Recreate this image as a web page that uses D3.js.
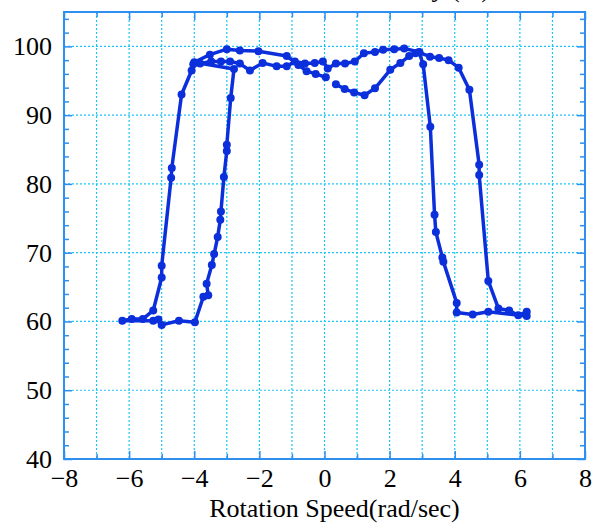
<!DOCTYPE html>
<html>
<head>
<meta charset="utf-8">
<script src="https://cdn.jsdelivr.net/npm/d3@7"></script>
<style>
  body { margin: 0; background: #fff; }
  text { font-family: "Liberation Serif", "DejaVu Serif", serif; }
</style>
</head>
<body>
<div id="chart"></div>
<script>
// Measured points in the order they were recorded (speed in rad/sec, value in %)
const speed = [0.35, 0.62, 0.91, 1.23, 1.55, 2.02, 2.33, 2.6, 2.79, 2.92, 3.24, 3.52, 3.81, 4.12, 4.45, 4.75, 4.75, 5.03, 5.34, 5.67, 5.95, 6.21, 6.21,
  5.03, 4.55, 4.06, 4.06, 3.65, 3.62, 3.42, 3.38, 3.25, 3.03, 2.9, 2.45, 2.14, 1.8, 1.55, 1.21, 0.93, 0.63, 0.35, 0.1,
  -0.05, -0.3, -0.6, -0.91, -1.16, -1.47, -1.9, -2.29, -2.6, -2.9, -3.18, -3.48, -3.82, -4.03, -4.08, -4.39, -4.69, -4.71, -5.0, -5.0, -5.26, -5.58, -5.92, -6.21,
  -5.26, -5.1, -5.0, -4.47, -3.98, -3.72, -3.57, -3.62, -3.46, -3.39, -3.28, -3.2, -3.18, -3.09, -3.0, -3.0, -2.88, -2.78,
  -4.0, -3.52, -3.0, -2.6, -2.03, -1.16, -0.8, -0.55, -0.27, 0.04]
const value = [94.5, 93.8, 93.3, 92.9, 93.9, 96.6, 97.6, 98.6, 99.0, 99.1, 98.5, 98.3, 98.0, 96.9, 93.7, 82.8, 81.3, 65.9, 61.9, 61.6, 60.9, 61.4, 60.8,
  61.4, 61.0, 61.3, 62.7, 68.7, 69.3, 73.0, 75.5, 88.3, 97.4, 99.2, 99.7, 99.6, 99.5, 99.2, 99.0, 97.8, 97.5, 97.5, 96.8,
  97.8, 97.6, 97.5, 97.8, 97.1, 97.1, 97.6, 96.5, 97.5, 97.8, 97.8, 97.8, 97.5, 97.4, 96.5, 93.0, 82.3, 80.9, 68.1, 66.4, 61.6, 60.35, 60.35, 60.1,
  60.1, 60.3, 59.5, 60.1, 59.9, 63.6, 63.8, 65.5, 68.2, 69.8, 72.3, 74.8, 76.0, 81.0, 84.8, 85.7, 92.5, 96.7,
  97.7, 98.8, 99.6, 99.4, 99.3, 98.6, 97.3, 96.4, 96.0, 95.5]

const xTicks = [-8, -6, -4, -2, 0, 2, 4, 6, 8]
const yTicks = [40, 50, 60, 70, 80, 90, 100]
const xLabel = "Rotation Speed(rad/sec)"
const yLabel = "Efficiency (%)"

let margin = {top: 12, right: 8, bottom: 67, left: 64}
let width = 593 - margin.left - margin.right
let height = 526 - margin.top - margin.bottom

let points = speed.map((s, i) => ({speed: s, value: value[i]}))

let xScale = d3.scaleLinear().domain([-8, 8]).range([0, width])
let yScale = d3.scaleLinear().domain([40, 105]).range([height, 0])

let svg = d3.select("#chart").append("svg")
  .attr("width", 593)
  .attr("height", 526)
  .append("g")
  .attr("transform", "translate(" + margin.left + "," + margin.top + ")")

const frameColor = "#2f8ff0"
const gridColor = "#19c6f5"

//dotted grid, every unit on x and every 10 on y
svg.append("g").selectAll("line").data(d3.range(-7, 8)).enter().append("line")
  .attr("x1", d => xScale(d)).attr("x2", d => xScale(d))
  .attr("y1", 0).attr("y2", height)
  .attr("stroke", gridColor).attr("stroke-width", 1.2).attr("stroke-dasharray", "2,2")
svg.append("g").selectAll("line").data(d3.range(50, 101, 10)).enter().append("line")
  .attr("y1", d => yScale(d)).attr("y2", d => yScale(d))
  .attr("x1", 0).attr("x2", width)
  .attr("stroke", gridColor).attr("stroke-width", 1.2).attr("stroke-dasharray", "2,2")

//axes with inward ticks
function styleAxis(g) {
  g.attr("font-family", null).attr("font-size", null)
  g.select(".domain").remove()
  g.selectAll(".tick line").attr("stroke", frameColor).attr("stroke-width", 1.5)
  g.selectAll(".tick text").attr("fill", "#000")
    .style("font-family", '"Liberation Serif", serif').style("font-size", "26px")
}
let minorX = d3.range(-7, 8, 2)
let minorY = d3.range(42, 105, 2).filter(d => d % 10 !== 0)

svg.append("g").attr("transform", "translate(0," + height + ")")
  .call(d3.axisBottom(xScale).tickValues(xTicks).tickSize(-8).tickPadding(10).tickFormat(d3.format("d")))
  .call(styleAxis)
svg.append("g").attr("transform", "translate(0," + height + ")")
  .call(d3.axisBottom(xScale).tickValues(minorX).tickSize(-5).tickFormat(""))
  .call(styleAxis)
svg.append("g")
  .call(d3.axisTop(xScale).tickValues(xTicks).tickSize(-8).tickFormat(""))
  .call(styleAxis)
svg.append("g")
  .call(d3.axisTop(xScale).tickValues(minorX).tickSize(-5).tickFormat(""))
  .call(styleAxis)
svg.append("g")
  .call(d3.axisLeft(yScale).tickValues(yTicks).tickSize(-8).tickPadding(12).tickFormat(d3.format("d")))
  .call(styleAxis)
svg.append("g")
  .call(d3.axisLeft(yScale).tickValues(minorY).tickSize(-5).tickFormat(""))
  .call(styleAxis)
svg.append("g").attr("transform", "translate(" + width + ",0)")
  .call(d3.axisRight(yScale).tickValues(yTicks).tickSize(-8).tickFormat(""))
  .call(styleAxis)
svg.append("g").attr("transform", "translate(" + width + ",0)")
  .call(d3.axisRight(yScale).tickValues(minorY).tickSize(-5).tickFormat(""))
  .call(styleAxis)

//plot frame
svg.append("rect").attr("width", width).attr("height", height)
  .attr("fill", "none").attr("stroke", frameColor).attr("stroke-width", 2)

//the curve
const lineColor = "#0c2fdc"
let line = d3.line().x(d => xScale(d.speed)).y(d => yScale(d.value))
svg.append("path").datum(points).attr("d", line)
  .attr("fill", "none").attr("stroke", lineColor).attr("stroke-width", 3.5).attr("stroke-linejoin", "round")
svg.append("g").selectAll("circle").data(points).enter().append("circle")
  .attr("cx", d => xScale(d.speed)).attr("cy", d => yScale(d.value))
  .attr("r", 4).attr("fill", lineColor)

//labels
svg.append("text").attr("x", width / 2 + 10).attr("y", height + 58)
  .attr("text-anchor", "middle").style("font-size", "26px").text(xLabel)
svg.append("text").attr("x", 426).attr("y", -15)
  .attr("text-anchor", "end").style("font-size", "26px").text(yLabel)
</script>
</body>
</html>
